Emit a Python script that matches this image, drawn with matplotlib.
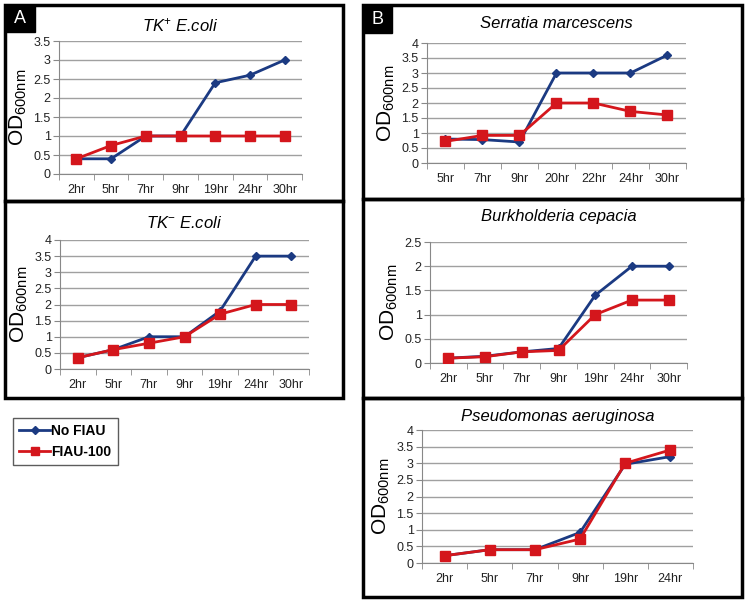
import matplotlib
matplotlib.use("Agg")
import matplotlib.pyplot as plt
from matplotlib.patches import Rectangle
from matplotlib.lines import Line2D

plt.rcParams['font.family'] = ['Liberation Sans', 'DejaVu Sans']
plt.rcParams['mathtext.fontset'] = 'custom'
plt.rcParams['mathtext.rm'] = 'Liberation Sans'
plt.rcParams['mathtext.it'] = 'Liberation Sans:italic'

# data
hours_ecoli = ['2hr', '5hr', '7hr', '9hr', '19hr', '24hr', '30hr']
tkpos_no = [0.4, 0.4, 1.0, 1.0, 2.4, 2.6, 3.0]
tkpos_fiau = [0.4, 0.75, 1.0, 1.0, 1.0, 1.0, 1.0]
tkneg_no = [0.35, 0.6, 1.0, 1.0, 1.8, 3.5, 3.5]
tkneg_fiau = [0.35, 0.6, 0.8, 1.0, 1.7, 2.0, 2.0]

hours_serratia = ['5hr', '7hr', '9hr', '20hr', '22hr', '24hr', '30hr']
serratia_no = [0.8, 0.78, 0.7, 3.0, 3.0, 3.0, 3.6]
serratia_fiau = [0.72, 0.92, 0.92, 2.0, 2.0, 1.72, 1.6]

hours_burk = ['2hr', '5hr', '7hr', '9hr', '19hr', '24hr', '30hr']
burk_no = [0.1, 0.14, 0.23, 0.3, 1.4, 2.0, 2.0]
burk_fiau = [0.1, 0.13, 0.23, 0.26, 1.0, 1.3, 1.3]

hours_pseudo = ['2hr', '5hr', '7hr', '9hr', '19hr', '24hr']
pseudo_no = [0.22, 0.4, 0.4, 0.92, 2.97, 3.2]
pseudo_fiau = [0.22, 0.4, 0.4, 0.72, 3.0, 3.4]

BLUE = '#1b3a82'
RED = '#d4161c'
W, H = 749, 604

fig = plt.figure(figsize=(7.49, 6.04), dpi=100)


def px_axes(x0, y0, x1, y1):
    return fig.add_axes([x0 / W, 1 - y1 / H, (x1 - x0) / W, (y1 - y0) / H])


def panel(rect, title, cats, no, fiau, ymax, ystep, title_y):
    ax = px_axes(*rect)
    n = len(cats)
    x = list(range(n))
    ax.plot(x, no, color=BLUE, lw=2, marker='D', ms=4.5, zorder=3)
    ax.plot(x, fiau, color=RED, lw=2, marker='s', ms=7, zorder=4)
    ax.set_xlim(-0.5, n - 0.5)
    ax.set_ylim(0, ymax)
    yt = []
    v = 0.0
    while v <= ymax + 1e-9:
        yt.append(round(v, 2))
        v += ystep
    ax.set_yticks(yt)
    ax.set_yticklabels(['%g' % t for t in yt])
    ax.yaxis.grid(True, color='#a0a0a0', lw=1)
    ax.set_axisbelow(True)
    ax.set_xticks(x)
    ax.set_xticklabels(cats)
    ax.set_xticks([i - 0.5 for i in range(n + 1)], minor=True)
    ax.tick_params(axis='x', which='major', length=0, pad=7, labelsize=9, colors='#222222')
    ax.tick_params(axis='x', which='minor', length=4, color='#888888')
    ax.tick_params(axis='y', length=4, color='#888888', labelsize=9, labelcolor='#222222', pad=2)
    for s in ['top', 'right']:
        ax.spines[s].set_visible(False)
    for s in ['left', 'bottom']:
        ax.spines[s].set_color('#888888')
    ax.set_ylabel(r'OD$_{\mathrm{ 600nm}}$', fontsize=15, labelpad=3)
    fig.text((rect[0] + rect[2]) / 2 / W, 1 - title_y / H, title, ha='center', va='center',
             fontsize=12, style='italic')
    return ax


panel((59, 41, 302, 174), r'TK$^{+}$ E.coli', hours_ecoli, tkpos_no, tkpos_fiau, 3.5, 0.5, 25)
panel((60, 240, 309, 369), r'TK$^{-}$ E.coli', hours_ecoli, tkneg_no, tkneg_fiau, 4, 0.5, 223)
panel((427, 43, 686, 163), 'Serratia marcescens', hours_serratia, serratia_no, serratia_fiau, 4, 0.5, 23)
panel((430, 242, 687, 363), 'Burkholderia cepacia', hours_burk, burk_no, burk_fiau, 2.5, 0.5, 217)
panel((422, 430, 693, 563), 'Pseudomonas aeruginosa', hours_pseudo, pseudo_no, pseudo_fiau, 4, 0.5, 417)

# panel borders
for (x0, y0, x1, y1) in [(5, 5, 343, 201), (5, 201, 343, 398), (363, 5, 742, 199),
                         (363, 199, 742, 398), (363, 398, 742, 597)]:
    fig.patches.append(Rectangle((x0 / W, 1 - y1 / H), (x1 - x0) / W, (y1 - y0) / H,
                                 transform=fig.transFigure, fill=False, ec='black', lw=2.5))

# letter tags
for lab, (x0, y0, x1, y1) in [('A', (5, 5, 35, 32)), ('B', (363, 5, 392, 33))]:
    fig.patches.append(Rectangle((x0 / W, 1 - y1 / H), (x1 - x0) / W, (y1 - y0) / H,
                                 transform=fig.transFigure, fc='black', ec='black', lw=1))
    fig.text((x0 + x1) / 2 / W, 1 - (y0 + y1) / 2 / H, lab, color='white', fontsize=13,
             ha='center', va='center')

handles = [Line2D([], [], color=BLUE, lw=2, marker='D', ms=4),
           Line2D([], [], color=RED, lw=2, marker='s', ms=6)]
leg = fig.legend(handles, ['No FIAU', 'FIAU-100'], loc='upper left',
                 bbox_to_anchor=(13 / W, 1 - 418 / H), fancybox=False, edgecolor='#333333',
                 prop={'weight': 'bold', 'size': 10}, handlelength=2.2, handletextpad=0.1,
                 borderpad=0.45, labelspacing=0.5, borderaxespad=0)
leg.get_frame().set_linewidth(1)

fig.savefig('out.png', dpi=100)
